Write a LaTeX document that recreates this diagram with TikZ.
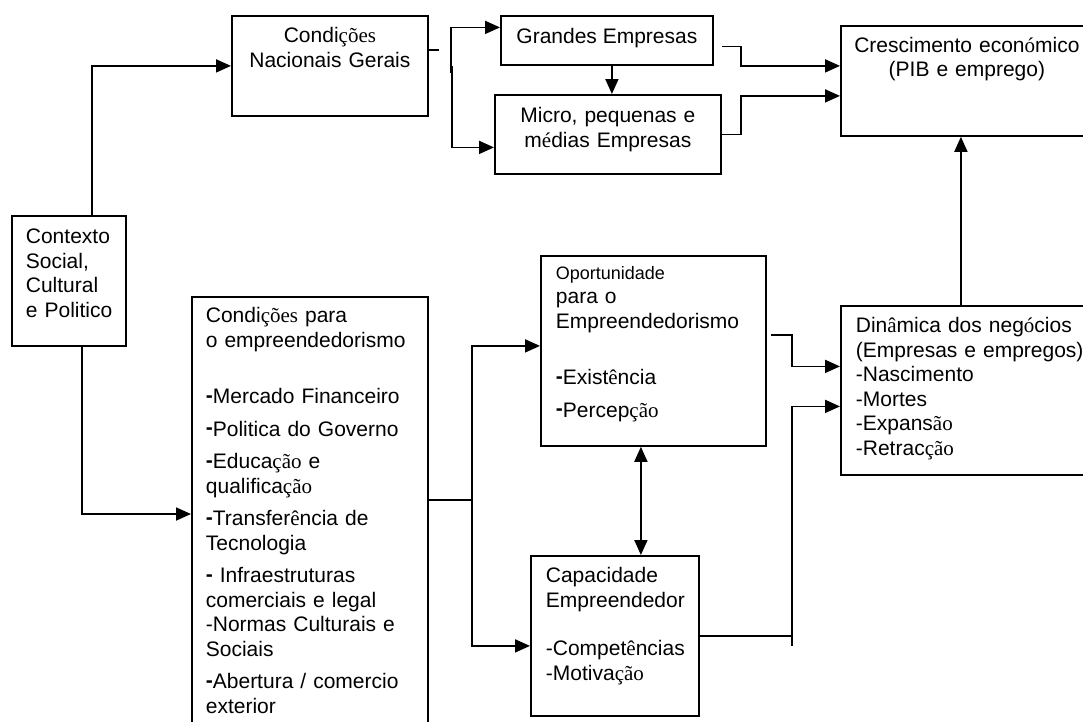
\documentclass[tikz,border=0pt]{standalone}
\usepackage{fontspec}
\setmainfont{Liberation Sans}
\newfontfamily\serifpt{Liberation Serif}
\usetikzlibrary{arrows.meta}
\newcommand\srf[1]{{\serifpt #1}}
\newcommand\trc{\raisebox{1.5pt}{\bfseries -}}

\begin{document}
\begin{tikzpicture}[x=1pt,y=-1pt,
                    line width=1.8pt,
                    caixa/.style={draw,inner sep=0pt,anchor=north west},
                    texto/.style={inner sep=0pt,anchor=base west,align=left,
                                  font=\fontsize{21}{24.5}\selectfont},
                    textoc/.style={texto,anchor=base,align=center},
                    seta/.style={-{Triangle[length=15pt,width=13pt]}},
                    setas/.style={{Triangle[length=15pt,width=13pt]}-{Triangle[length=15pt,width=13pt]}}]

                    \path[fill=white,use as bounding box] (0,0) rectangle (1083,721);

                    \node[caixa,minimum width=114pt,minimum height=130pt] (ctx) at (11,215) {};
                    \node[caixa,minimum width=196pt,minimum height=100pt] (cng) at (231,15) {};
                    \node[caixa,minimum width=212pt,minimum height=49pt] (ge) at (500,15) {};
                    \node[caixa,minimum width=226pt,minimum height=79pt] (mpme) at (494,94) {};
                    \node[caixa,minimum width=252pt,minimum height=110pt] (cresc) at (840,25) {};
                    \node[caixa,minimum width=236pt,minimum height=440pt] (cpe) at (191,296) {};
                    \node[caixa,minimum width=225pt,minimum height=190pt] (oport) at (540,255) {};
                    \node[caixa,minimum width=168pt,minimum height=160pt] (cap) at (530,555) {};
                    \node[caixa,minimum width=252pt,minimum height=169pt] (din) at (840,305) {};

                    \node[texto,text width=100pt] (ctx-t) at ([xshift=14pt,yshift=-28.5pt]ctx.north west)
                        {Contexto\\Social,\\Cultural\\e Politico};
                    \node[textoc,text width=196pt] (cng-t) at ([yshift=-27.5pt]cng.north)
                        {Condi\srf{ções}\\Nacionais Gerais};
                    \node[textoc,anchor=center] (ge-t) at ([yshift=2pt]ge.center) {Grandes Empresas};
                    \node[textoc,text width=226pt] (mpme-t) at ([yshift=-28.5pt]mpme.north)
                        {Micro, pequenas e\\m\srf{é}dias Empresas};
                    \node[textoc,text width=252pt] (cresc-t) at ([yshift=-27pt]cresc.north)
                        {Crescimento econ\srf{ó}mico\\(PIB e emprego)};
                    \node[texto,text width=220pt] (cpe-t) at ([xshift=14pt,yshift=-26.5pt]cpe.north west)
                        {Condi\srf{ções} para\\o empreendedorismo\\[32pt]
                         \trc Mercado Financeiro\\[8pt]
                         \trc Politica do Governo\\[8pt]
                         \trc Educa\srf{ção} e\\qualifica\srf{ção}\\[8pt]
                         \trc Transfer\srf{ê}ncia de\\Tecnologia\\[8pt]
                         \trc\ Infraestruturas\\comerciais e legal\\
                         -Normas Culturais e\\Sociais\\[8pt]
                         \trc Abertura / comercio\\exterior};
                    \node[texto,text width=205pt] (oport-t) at ([xshift=15pt,yshift=-24pt]oport.north west)
                        {{\fontsize{18}{21}\selectfont Oportunidade}\\para o\\Empreendedorismo\\[32pt]
                         \trc Exist\srf{ê}ncia\\[8pt]
                         \trc Percep\srf{ção}};
                    \node[texto,text width=150pt] (cap-t) at ([xshift=15pt,yshift=-27.5pt]cap.north west)
                        {Capacidade\\Empreendedor\\[24pt]-Compet\srf{ê}ncias\\-Motiva\srf{ção}};
                    \node[texto,text width=235pt] (din-t) at ([xshift=15pt,yshift=-27.5pt]din.north west)
                        {Din\srf{â}mica dos neg\srf{ó}cios\\(Empresas e empregos)\\-Nascimento\\-Mortes\\-Expans\srf{ão}\\-Retrac\srf{ção}};

                    \draw[seta] ([xshift=23pt]ctx.north) |- (cng.west);
                    \draw[seta] ([xshift=13pt]ctx.south) |- ([yshift=-218pt]cpe.north west);
                    \draw ([yshift=16pt]cng.east) -- ++(10,0);
                    \draw[seta] ([xshift=22pt,yshift=-7pt]cng.east) |- ([yshift=13pt]ge.west);
                    \draw[seta] ([xshift=23pt]cng.east) |- ([yshift=-13pt]mpme.west);
                    \draw[seta] ([xshift=5pt]ge.south) -- ([xshift=5pt]ge.south |- mpme.north);
                    \draw[seta] ([xshift=8pt,yshift=-6pt]ge.east) -- ++(19,0) |- ([yshift=15pt]cresc.west);
                    \draw[seta] (mpme.east) -- ++(19,0) |- ([yshift=-15pt]cresc.west);
                    \draw[seta] ([xshift=-6pt]din.north) -- ([xshift=-6pt]din.north |- cresc.south);
                    \draw[seta] ([yshift=-204pt]cpe.north east) -- ++(43,0) |- ([yshift=5pt]oport.west);
                    \draw[seta] ([yshift=-204pt]cpe.north east) ++(43,0) |- ([yshift=-10pt]cap.west);
                    \draw[seta] ([xshift=4pt,yshift=16pt]oport.east) -- ++(21,0) |- ([yshift=24pt]din.west);
                    \draw (cap.east) -- ++(92,0);
                    \draw[seta] ([xshift=92pt,yshift=-10pt]cap.east) |- ([yshift=-16pt]din.west);
                    \draw[setas] ([xshift=-12.5pt]oport.south) -- ([xshift=-12.5pt]oport.south |- cap.north);
                \end{tikzpicture}
\end{document}
